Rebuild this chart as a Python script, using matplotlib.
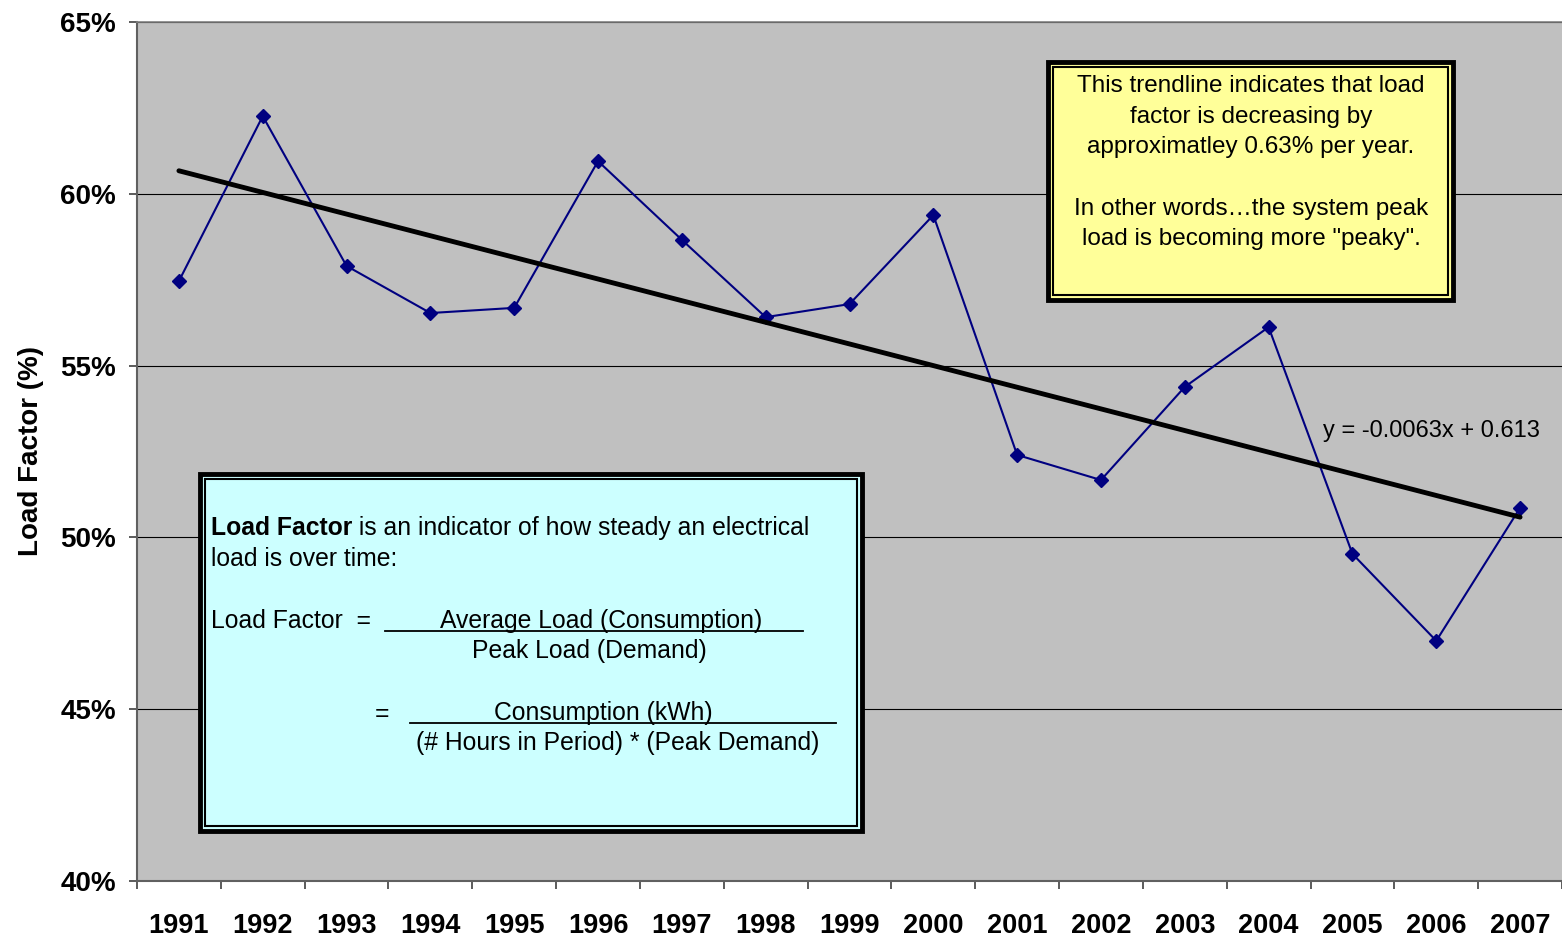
import matplotlib.pyplot as plt
import numpy as np
from matplotlib.patches import Rectangle
from matplotlib.lines import Line2D
from matplotlib.ticker import PercentFormatter, FixedLocator

plt.rcParams['font.family'] = ['Liberation Sans', 'DejaVu Sans']

# data
years = ["1991", "1992", "1993", "1994", "1995", "1996", "1997", "1998", "1999",
         "2000", "2001", "2002", "2003", "2004", "2005", "2006", "2007"]
load_factor = [0.5746, 0.6226, 0.5790, 0.5653, 0.5668, 0.6095, 0.5866, 0.5641,
               0.5679, 0.5938, 0.5240, 0.5167, 0.5438, 0.5612, 0.4952, 0.4699, 0.5086]
trend_slope = -0.0063
trend_intercept = 0.613
y_ticks = [0.40, 0.45, 0.50, 0.55, 0.60, 0.65]

W, H = 1562, 938
fig = plt.figure(figsize=(W / 100, H / 100), dpi=100)
# axes box in pixels: left 137, right 1562, top 22, bottom 881
ax = fig.add_axes([137 / W, 1 - 881 / H, (1562 - 137) / W, (881 - 22) / H])
ax.set_facecolor("#C0C0C0")

x = np.arange(1, len(years) + 1)
ax.plot(x, load_factor, color="#000080", lw=1.5, marker="D", markersize=7.5,
        markerfacecolor="#000080", markeredgecolor="#000080", zorder=3)

# linear trendline
xt = np.array([x[0], x[-1]])
ax.plot(xt, trend_slope * xt + trend_intercept, color="black", lw=3.5,
        solid_capstyle="round", zorder=4)

ax.set_xlim(0.5, len(years) + 0.5)
ax.set_ylim(y_ticks[0], y_ticks[-1])

# category axis: tick marks on boundaries, labels in the middle
ax.xaxis.set_major_locator(FixedLocator(np.arange(0.5, len(years) + 1)))
ax.xaxis.set_minor_locator(FixedLocator(x))
ax.set_xticklabels([], minor=False)
ax.set_xticklabels(years, minor=True, fontsize=19.5, fontweight="bold")
ax.tick_params(axis="x", which="major", direction="out", length=6, width=1.2, color="#404040")
ax.tick_params(axis="x", which="minor", length=0, pad=23)

ax.set_yticks(y_ticks)
ax.yaxis.set_major_formatter(PercentFormatter(1.0, decimals=0))
ax.tick_params(axis="y", direction="out", length=6, width=1.2, color="#404040",
               labelsize=20, pad=9)
for lbl in ax.get_yticklabels():
    lbl.set_fontweight("bold")

ax.set_ylabel("Load Factor (%)", fontsize=20, fontweight="bold", labelpad=12)

ax.grid(axis="y", color="black", lw=0.8)
ax.set_axisbelow(True)
for side in ["left", "bottom"]:
    ax.spines[side].set_color("#606060")
    ax.spines[side].set_linewidth(1.5)
ax.spines["top"].set_color("#808080")
ax.spines["top"].set_linewidth(1.2)
ax.spines["right"].set_visible(False)


def px(xp, yp):
    # figure pixel -> axes fraction
    return (xp - 137) / 1425, (881 - yp) / 859


def boxed(x0, y0, x1, y1, face):
    ax0, ay0 = px(x0, y1)
    ax1, ay1 = px(x1, y0)
    ax.add_patch(Rectangle((ax0, ay0), ax1 - ax0, ay1 - ay0, transform=ax.transAxes,
                           facecolor=face, edgecolor="black", lw=3.5, zorder=5))
    dx, dy = 5 / 1425, 5 / 859
    ax.add_patch(Rectangle((ax0 + dx, ay0 + dy), ax1 - ax0 - 2 * dx, ay1 - ay0 - 2 * dy,
                           transform=ax.transAxes, facecolor="none", edgecolor="black",
                           lw=1.5, zorder=6))


# yellow note
boxed(1048, 62, 1453, 300, "#FFFF99")
note = ("This trendline indicates that load\nfactor is decreasing by\n"
        "approximatley 0.63% per year.\n\nIn other words\u2026the system peak\n"
        "load is becoming more \"peaky\".")
tx, ty = px(1251, 75)
ax.text(tx, ty, note, transform=ax.transAxes, ha="center", va="top", fontsize=17.5,
        linespacing=1.51, zorder=7)

# trend equation
ex, ey = px(1323, 431)
ax.text(ex, ey, f"y = {trend_slope}x + {trend_intercept}", transform=ax.transAxes,
        ha="left", va="center", fontsize=17, zorder=7)

# cyan definition box
boxed(200, 474, 862, 831, "#CCFFFF")
fs = 17.8
bx, by = px(211, 528)
bold = ax.text(bx, by, "Load Factor", transform=ax.transAxes, ha="left", va="center",
               fontsize=fs, fontweight="bold", zorder=7)
ax.annotate(" is an indicator of how steady an electrical", xy=(1, 0), xycoords=bold,
            ha="left", va="bottom", fontsize=fs, zorder=7)
ax.text(*px(211, 559), "load is over time:", transform=ax.transAxes, ha="left",
        va="center", fontsize=fs, zorder=7)
ax.text(*px(211, 621), "Load Factor  =", transform=ax.transAxes, ha="left",
        va="center", fontsize=fs, zorder=7)
ax.text(*px(601, 621), "Average Load (Consumption)", transform=ax.transAxes,
        ha="center", va="center", fontsize=fs, zorder=7)
ax.text(*px(589, 651), "Peak Load (Demand)", transform=ax.transAxes,
        ha="center", va="center", fontsize=fs, zorder=7)
ax.text(*px(382, 714), "=", transform=ax.transAxes, ha="center",
        va="center", fontsize=fs, zorder=7)
ax.text(*px(603, 713), "Consumption (kWh)", transform=ax.transAxes,
        ha="center", va="center", fontsize=fs, zorder=7)
ax.text(*px(618, 743), "(# Hours in Period) * (Peak Demand)", transform=ax.transAxes,
        ha="center", va="center", fontsize=fs, zorder=7)
for (x0, x1, yl) in [(385, 803, 631), (410, 836, 723)]:
    p0, p1 = px(x0, yl), px(x1, yl)
    ax.add_line(Line2D([p0[0], p1[0]], [p0[1], p1[1]], transform=ax.transAxes,
                       color="black", lw=1.3, zorder=7))

fig.savefig("out.png", dpi=100)
